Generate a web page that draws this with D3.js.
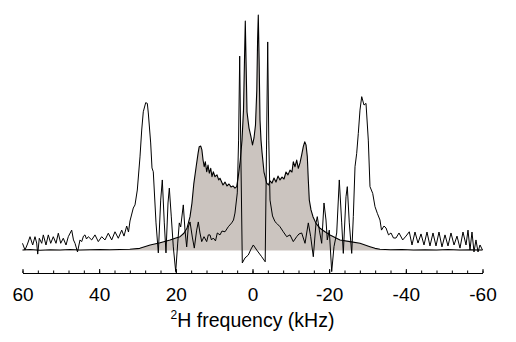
<!DOCTYPE html>
<html>
<head>
<meta charset="utf-8">
<script src="https://cdn.jsdelivr.net/npm/d3@7"></script>
<style>
  html, body { margin: 0; padding: 0; background: #fff; }
  svg { display: block; }
  text { font-family: "Liberation Sans", Arial, Helvetica, sans-serif; fill: #000; }
</style>
</head>
<body>
<svg id="chart" width="516" height="342"></svg>
<script>
// ---- data (frequency in kHz, relative intensity) ----
const shadedFreq = [60,58,55.4,52.8,50.2,47.6,45,42.4,39.8,37.2,34.6,32,29.4,26.7,24.1,21.5,20.2,18.9,17.9,17.1,16.3,15.8,15.3,14.7,14.2,13.9,13.5,13.2,12.9,12.6,12.3,11.95,11.6,11.27,10.9,10.57,10.23,9.78,9.26,8.82,8.48,7.7,7.17,6.65,6.13,5.61,5.09,4.57,4.12,3.65,3.18,2.74,2.35,2.09,1.88,1.64,1.43,0.91,0.39,0,-0.39,-0.78,-1.12,-1.33,-1.51,-1.72,-1.96,-2.22,-2.48,-3.0,-3.7,-4.17,-4.57,-5.09,-5.61,-6.13,-6.65,-7.17,-7.7,-8.22,-8.74,-9.26,-9.78,-10.3,-10.64,-11.09,-11.53,-11.95,-12.39,-12.83,-13.25,-13.62,-13.96,-14.3,-14.56,-14.82,-15.26,-15.78,-16.57,-17.61,-18.91,-20.22,-22.83,-25.43,-28.04,-30.65,-31.96,-33.26,-36,-39,-42,-45,-48,-51,-54,-57,-60];
const shadedVal = [0.2,0.4,0.1,0.3,0.2,0.4,0.2,0.3,0.4,0.3,0.4,0.5,0.9,2.3,3.25,4.4,5.1,5.75,7.2,9.25,14.1,19.7,28.0,34.9,40.5,43.25,43.5,41.9,37.7,34.9,37.0,32.8,35.6,32.2,34.25,30.75,32.8,30.75,31.5,29.4,30.1,27.3,28.5,26.9,27.7,26.5,26.9,26.0,26.6,31.5,37.7,46.0,58.5,79.4,95.6,75.2,57.7,51.0,47.3,44.0,46.9,52.3,66.9,87.7,98.1,80,54.4,46.0,41.0,32.7,28.1,27.3,29.0,28.1,30.2,28.5,31.0,29.4,30.6,29.8,32.7,31.5,33.5,32.7,37.0,34.9,37.7,34.25,36.5,39.8,43.25,45.3,44.0,39.1,29.4,21.0,16.9,14.1,11.3,9.25,7.8,6.5,4.4,3.7,3.0,1.6,0.9,0.5,0.3,0.4,0.2,0.3,0.2,0.4,0.2,0.3,0.2];

const lineFreq = [60,59.35,58.7,58.04,57.34,56.74,56.3,56.03,55.62,54.99,54.57,53.87,53.27,52.64,51.97,51.26,50.66,50.03,49.36,48.65,48.05,47.17,46.7,46.3,45.65,45,44.56,44.09,43.7,43.3,42.83,41.95,41.09,40.23,39.34,38.48,37.62,36.73,35.87,35.01,34.12,33.52,32.82,32.35,31.96,31.1,30.65,30.05,29.35,28.9,28.49,27.86,27.44,27.18,26.56,26.22,25.88,25.17,24.57,23.95,23.53,23.01,22.57,22.04,21.7,21.18,20.66,20.03,19.51,19.1,18.73,18.05,17.61,17.17,16.75,16.3,15.7,15.18,14.56,14.14,13.7,13.25,12.65,11.95,11.53,11.09,10.7,10.23,9.65,9.18,8.48,7.96,7.17,6.31,5.43,4.96,4.57,3.97,3.63,3.34,3.05,2.66,1.96,1.1,0.39,-0.21,-1.1,-2.4,-3.31,-3.65,-3.97,-4.25,-4.57,-5.22,-5.87,-6.52,-7.17,-8.03,-8.92,-9.78,-10.64,-11.53,-12.13,-12.83,-13.7,-14.56,-15.18,-15.86,-16.57,-16.9,-17.43,-18.05,-18.65,-19.17,-19.51,-20.03,-20.66,-21.26,-21.97,-22.64,-23.27,-23.69,-24.39,-24.73,-25.25,-25.88,-26.3,-26.74,-27.18,-27.6,-28.04,-28.49,-29.09,-29.61,-30.21,-30.65,-31.36,-31.96,-32.56,-33.26,-33.65,-34.3,-34.83,-35.48,-36.13,-36.78,-37.43,-38.22,-39.18,-40.04,-40.9,-41.61,-42.39,-43.17,-43.96,-44.74,-45.52,-46.3,-47.09,-47.87,-48.65,-49.43,-50.22,-51,-51.78,-52.57,-53.35,-54.13,-54.91,-55.7,-56.22,-56.74,-57.26,-57.78,-58.3,-58.83,-59.35,-60];
const lineVal = [3.0,0.2,2.7,5.75,2.3,5.75,3.1,-1.5,5.1,3.0,6.5,2.3,6.5,3.0,5.75,3.0,7.2,3.0,5.1,2.3,5.75,8.5,4.4,3.0,-0.6,4.4,3.7,6.0,6.5,4.8,5.75,4.4,6.5,3.7,5.75,4.4,7.2,4.4,7.8,5.1,8.5,6.0,10.2,7.7,12.3,17.7,19.0,25.2,39.0,50.2,57.8,61.6,61.3,57.3,44.8,34.4,32.8,11.5,-1.0,21.0,29.4,11.5,-1.0,19.8,26.0,14.0,1.5,-8.8,3.1,11.5,9.8,19.0,8.5,1.5,9.8,11.9,5.6,1.0,8.5,11.9,7.3,3.7,5.75,3.7,6.5,6.5,4.4,5.2,4.0,7.3,6.5,8.1,7.8,9.9,11.5,12.7,15.6,24.0,46.0,81.0,41.9,-5.2,-3.1,-1.9,0.6,2.3,0.2,-2.6,-4.7,41.9,86.9,46.0,21.0,14.4,12.0,11.0,9.9,7.8,5.75,6.5,3.7,5.75,6.9,7.3,3.0,11.5,5.75,-2.6,11.5,14.1,8.5,3.0,19.8,12.7,4.4,8.5,-8.8,1.6,7.3,29.4,11.5,-1.2,22.4,26.6,11.5,-1.2,14.1,34.9,40.5,48.8,58.5,64.1,60.6,61.3,46.0,26.6,23.8,18.25,15.5,12.7,8.5,10.2,9.4,6.5,7.3,5.2,5.2,7.3,4.4,6.0,7.8,2.3,7.7,3.1,6.9,2.3,7.7,1.9,7.3,1.9,7.7,1.5,6.5,1.9,7.3,2.3,6.0,1.0,7.7,2.3,8.5,0.2,7.7,-0.6,4.4,-0.6,2.3,0.2];

const majorTicks = [60, 40, 20, 0, -20, -40, -60];
const minorTicks = d3.range(60, -60.01, -4);
const axisLabelMain = "H frequency (kHz)";
const axisLabelSup = "2";

// ---- drawing ----
const svg = d3.select("#chart");
const x = d3.scaleLinear().domain([60, -60]).range([22.5, 482.5]);
const y = d3.scaleLinear().domain([0, 100]).range([250.5, 10.5]);

const shaded = shadedFreq.map((f, i) => [f, shadedVal[i]]);
const noisy = lineFreq.map((f, i) => [f, lineVal[i]]);

svg.append("path")
  .datum(shaded)
  .attr("fill", "#cbc4bf")
  .attr("d", d3.area().x(d => x(d[0])).y0(y(0)).y1(d => y(d[1])));

svg.append("path")
  .datum(shaded)
  .attr("fill", "none")
  .attr("stroke", "#000")
  .attr("stroke-width", 1.1)
  .attr("stroke-linejoin", "round")
  .attr("d", d3.line().x(d => x(d[0])).y(d => y(d[1])));

svg.append("path")
  .datum(noisy)
  .attr("fill", "none")
  .attr("stroke", "#000")
  .attr("stroke-width", 1)
  .attr("stroke-linejoin", "round")
  .attr("d", d3.line().x(d => x(d[0])).y(d => y(d[1])));

// axis
const axisY = 273;
const gMinor = svg.append("g").attr("transform", `translate(0,${axisY})`)
  .call(d3.axisBottom(x).tickValues(minorTicks).tickSizeInner(-2.5).tickSizeOuter(0).tickFormat(""));
gMinor.select(".domain").attr("stroke", "#000").attr("stroke-width", 1.2);
gMinor.selectAll(".tick line").attr("stroke", "#000");

const gMajor = svg.append("g").attr("transform", `translate(0,${axisY})`)
  .call(d3.axisBottom(x).tickValues(majorTicks).tickSizeInner(-4).tickSizeOuter(0).tickFormat(d3.format("d")));
gMajor.select(".domain").remove();
gMajor.selectAll(".tick line").attr("stroke", "#000");
gMajor.selectAll(".tick text")
  .attr("y", 0).attr("dy", null)
  .attr("transform", "translate(0,27.5)")
  .style("font-size", "19px")
  .style("font-family", '"Liberation Sans", Arial, sans-serif')
  .text(d => d < 0 ? "-" + Math.abs(d) : d);

const title = svg.append("text")
  .attr("x", x(0)).attr("y", 326.5)
  .attr("text-anchor", "middle")
  .style("font-size", "19.5px");
title.append("tspan").attr("dy", -8).style("font-size", "12px").text(axisLabelSup);
title.append("tspan").attr("dy", 8).text(axisLabelMain);
</script>
</body>
</html>
